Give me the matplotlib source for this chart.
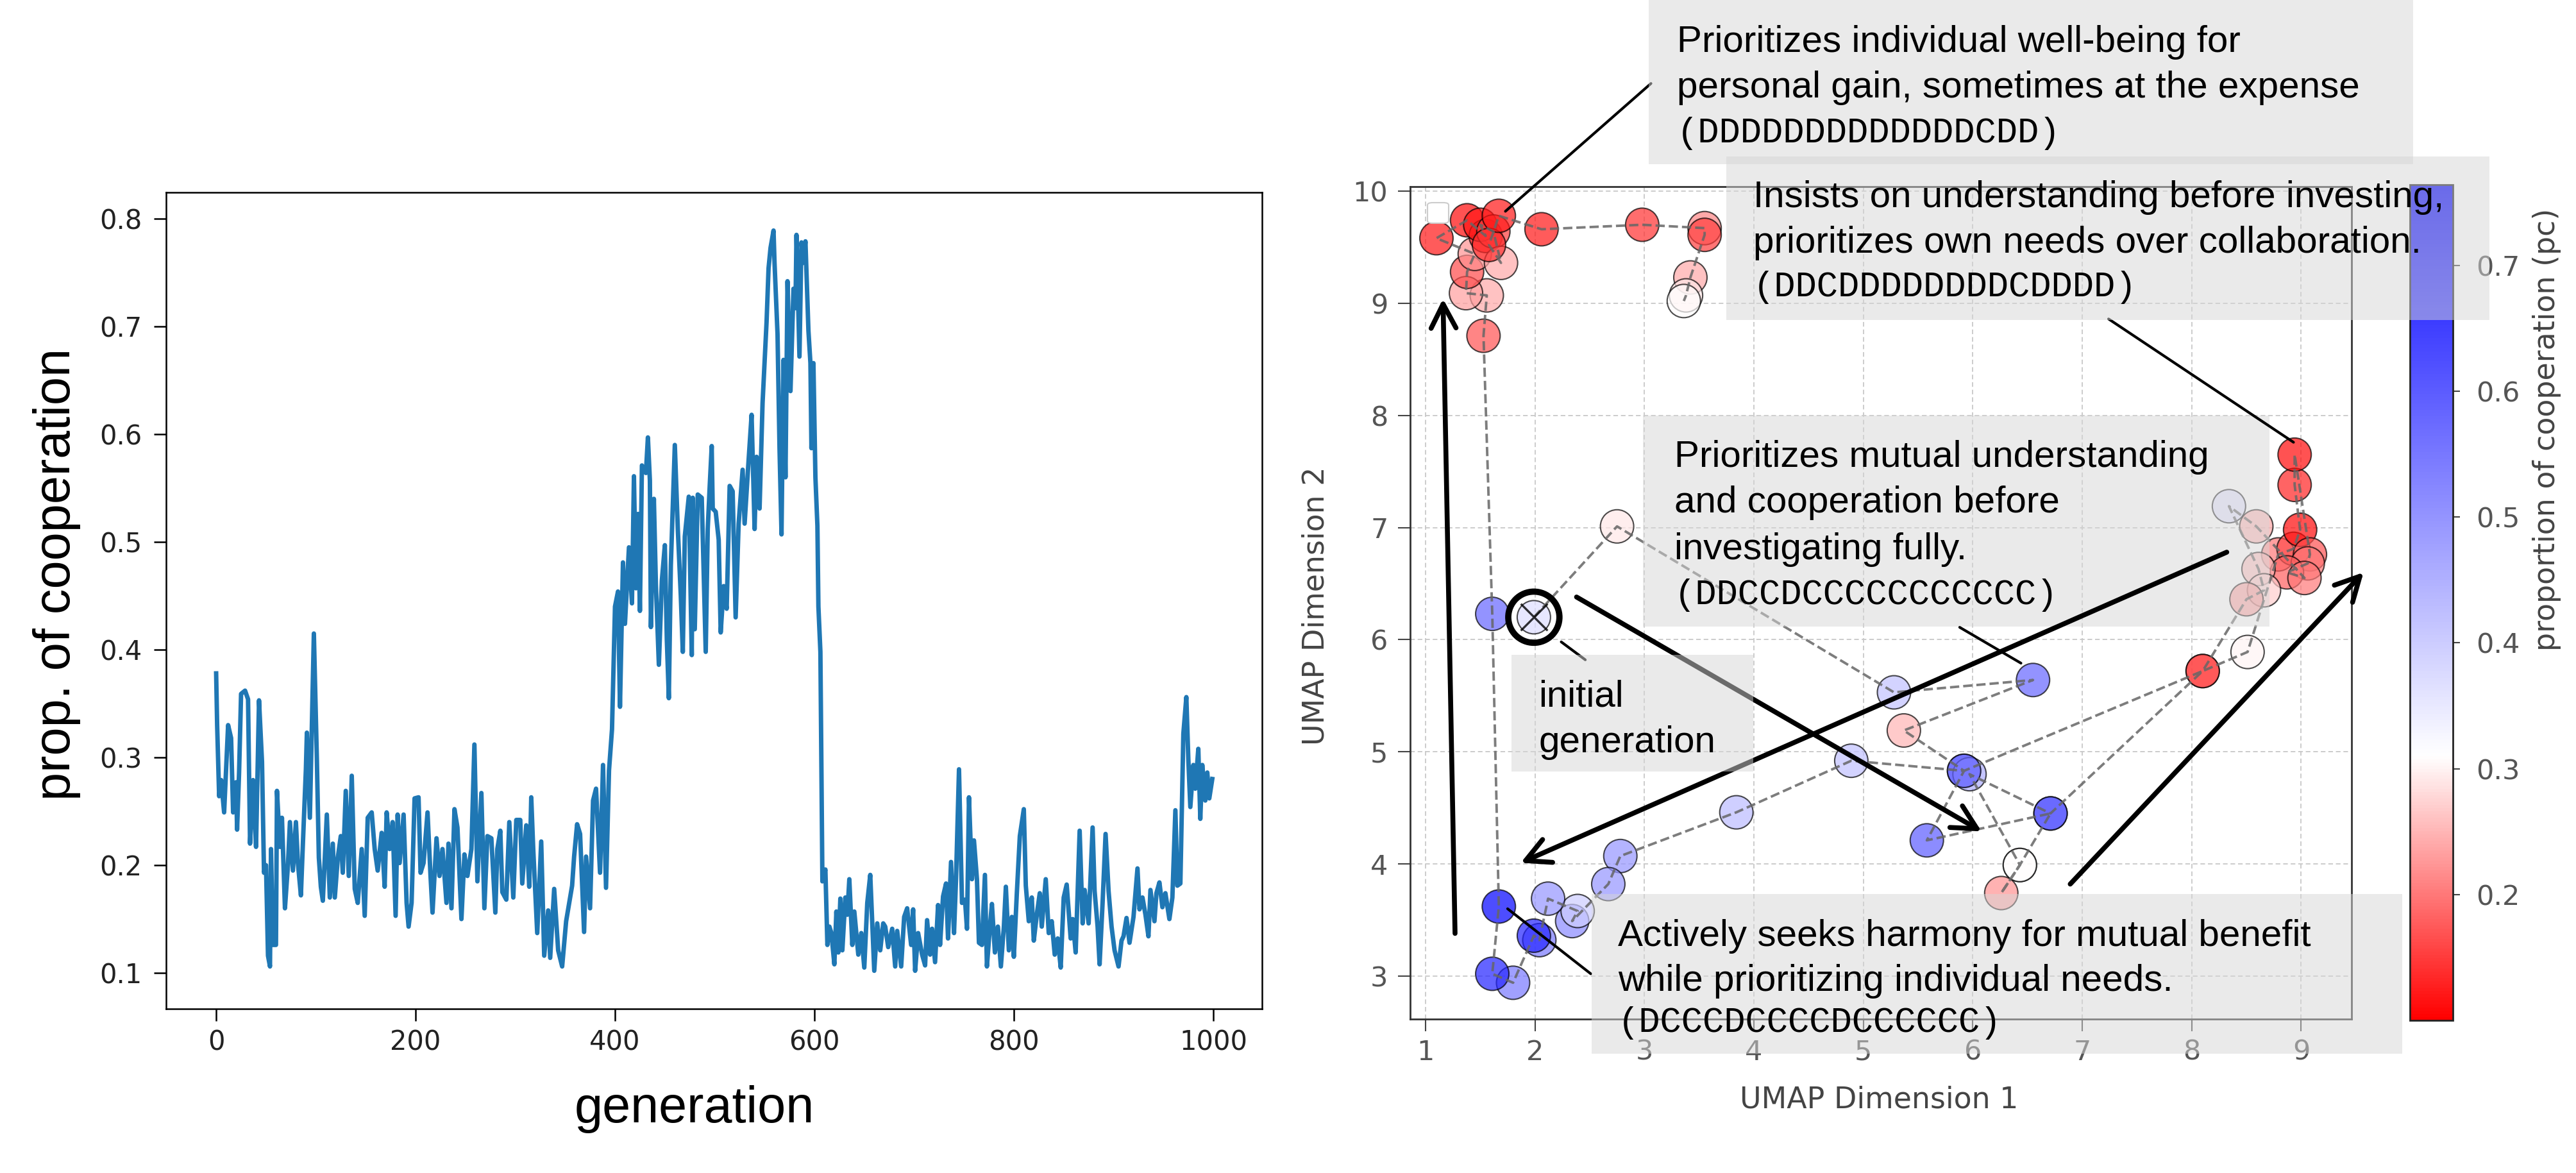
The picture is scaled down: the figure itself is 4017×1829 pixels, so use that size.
import matplotlib
matplotlib.use('Agg')
import matplotlib.pyplot as plt
from matplotlib.colors import LinearSegmentedColormap, Normalize
from matplotlib.patches import Rectangle, FancyBboxPatch

W, H = 4017, 1829

# proportion of cooperation per generation
generation = [0, 1, 3, 5, 8, 12, 15, 17, 20, 21,
              23, 25, 29, 32, 34, 37, 40, 43, 46, 48,
              50, 52, 54, 55, 57, 60, 61, 64, 66, 69,
              72, 74, 77, 80, 82, 85, 87, 90, 91, 94,
              98, 101, 103, 105, 107, 111, 114, 117, 119, 122,
              125, 127, 130, 133, 136, 139, 142, 146, 149, 152,
              156, 159, 162, 166, 169, 171, 174, 177, 180, 182,
              184, 188, 191, 193, 196, 199, 203, 205, 208, 212,
              215, 217, 221, 224, 227, 231, 233, 236, 239, 242,
              246, 249, 252, 256, 259, 262, 266, 269, 272, 276,
              280, 282, 285, 287, 291, 294, 298, 301, 305, 307,
              311, 314, 316, 318, 322, 326, 329, 333, 335, 339,
              343, 347, 351, 357, 359, 362, 365, 369, 371, 375,
              378, 381, 385, 388, 391, 394, 397, 400, 403, 405,
              408, 410, 414, 417, 419, 421, 423, 425, 427, 431,
              433, 435, 436, 439, 441, 444, 447, 450, 452, 454,
              456, 460, 463, 466, 468, 470, 474, 477, 478, 480,
              483, 487, 491, 493, 495, 497, 498, 501, 504, 506,
              509, 512, 515, 518, 521, 524, 528, 530, 534, 537,
              540, 542, 545, 548, 550, 552, 554, 556, 559, 560,
              563, 565, 567, 569, 571, 573, 576, 579, 581, 582,
              585, 587, 589, 591, 594, 596, 597, 599, 601, 603,
              604, 606, 608, 611, 613, 615, 617, 620, 622, 624,
              626, 628, 631, 633, 635, 638, 640, 644, 647, 650,
              653, 656, 660, 663, 666, 669, 671, 674, 678, 681,
              683, 687, 690, 693, 697, 699, 701, 704, 708, 711,
              713, 716, 718, 721, 724, 726, 729, 732, 734, 737,
              740, 742, 745, 748, 751, 753, 755, 758, 760, 763,
              765, 768, 771, 773, 776, 778, 781, 784, 787, 790,
              792, 795, 798, 800, 803, 806, 810, 812, 815, 818,
              820, 823, 826, 828, 832, 835, 838, 841, 844, 847,
              850, 853, 857, 859, 862, 866, 869, 871, 875, 879,
              881, 884, 886, 889, 892, 895, 898, 901, 905, 908,
              910, 913, 916, 920, 924, 926, 929, 932, 935, 937,
              941, 943, 946, 949, 952, 956, 959, 962, 964, 967,
              970, 973, 975, 977, 980, 982, 985, 987, 989, 992,
              994, 996, 999]

prop_coop = [0.378, 0.330, 0.264, 0.279, 0.249, 0.330, 0.318, 0.249, 0.277, 0.233,
             0.286, 0.359, 0.362, 0.354, 0.220, 0.279, 0.217, 0.353, 0.296, 0.193,
             0.200, 0.116, 0.106, 0.215, 0.126, 0.126, 0.269, 0.217, 0.244, 0.160,
             0.200, 0.240, 0.195, 0.240, 0.202, 0.172, 0.220, 0.289, 0.323, 0.244,
             0.415, 0.299, 0.207, 0.180, 0.167, 0.247, 0.170, 0.220, 0.170, 0.207,
             0.227, 0.193, 0.269, 0.190, 0.283, 0.178, 0.165, 0.215, 0.153, 0.244,
             0.249, 0.215, 0.195, 0.230, 0.180, 0.249, 0.215, 0.240, 0.153, 0.247,
             0.202, 0.247, 0.165, 0.143, 0.165, 0.262, 0.263, 0.193, 0.202, 0.249,
             0.190, 0.156, 0.225, 0.190, 0.215, 0.165, 0.220, 0.160, 0.252, 0.235,
             0.150, 0.210, 0.190, 0.215, 0.312, 0.185, 0.267, 0.160, 0.227, 0.225,
             0.156, 0.215, 0.232, 0.175, 0.168, 0.240, 0.170, 0.242, 0.242, 0.183,
             0.237, 0.180, 0.263, 0.215, 0.137, 0.222, 0.116, 0.158, 0.114, 0.178,
             0.121, 0.106, 0.148, 0.181, 0.208, 0.238, 0.229, 0.138, 0.208, 0.160,
             0.260, 0.271, 0.193, 0.293, 0.179, 0.288, 0.326, 0.440, 0.454, 0.347,
             0.481, 0.424, 0.495, 0.443, 0.561, 0.457, 0.526, 0.436, 0.571, 0.564,
             0.597, 0.557, 0.421, 0.540, 0.461, 0.386, 0.464, 0.497, 0.409, 0.355,
             0.478, 0.590, 0.512, 0.450, 0.398, 0.505, 0.542, 0.395, 0.541, 0.419,
             0.544, 0.541, 0.398, 0.512, 0.552, 0.589, 0.531, 0.528, 0.502, 0.416,
             0.459, 0.438, 0.552, 0.547, 0.430, 0.517, 0.567, 0.517, 0.576, 0.618,
             0.512, 0.579, 0.531, 0.629, 0.666, 0.704, 0.754, 0.773, 0.789, 0.759,
             0.693, 0.587, 0.507, 0.669, 0.560, 0.742, 0.640, 0.735, 0.717, 0.785,
             0.672, 0.778, 0.759, 0.779, 0.696, 0.666, 0.587, 0.666, 0.560, 0.515,
             0.440, 0.398, 0.185, 0.196, 0.126, 0.143, 0.137, 0.108, 0.157, 0.119,
             0.169, 0.121, 0.170, 0.154, 0.187, 0.126, 0.157, 0.117, 0.137, 0.105,
             0.165, 0.191, 0.102, 0.146, 0.121, 0.146, 0.143, 0.124, 0.141, 0.106,
             0.139, 0.106, 0.152, 0.160, 0.126, 0.159, 0.102, 0.137, 0.117, 0.107,
             0.149, 0.117, 0.141, 0.110, 0.163, 0.126, 0.171, 0.183, 0.132, 0.203,
             0.137, 0.187, 0.289, 0.165, 0.168, 0.141, 0.263, 0.187, 0.223, 0.187,
             0.128, 0.126, 0.191, 0.106, 0.143, 0.164, 0.119, 0.143, 0.106, 0.143,
             0.180, 0.121, 0.152, 0.115, 0.174, 0.227, 0.252, 0.181, 0.148, 0.170,
             0.130, 0.154, 0.174, 0.143, 0.187, 0.137, 0.148, 0.117, 0.132, 0.105,
             0.170, 0.182, 0.132, 0.150, 0.119, 0.232, 0.146, 0.177, 0.146, 0.235,
             0.176, 0.143, 0.108, 0.165, 0.229, 0.176, 0.143, 0.121, 0.106, 0.130,
             0.134, 0.151, 0.128, 0.152, 0.197, 0.159, 0.170, 0.154, 0.134, 0.177,
             0.148, 0.174, 0.184, 0.161, 0.174, 0.150, 0.170, 0.251, 0.181, 0.183,
             0.322, 0.356, 0.298, 0.254, 0.293, 0.271, 0.308, 0.243, 0.293, 0.260,
             0.286, 0.262, 0.280]

# UMAP trajectory of the dominant strategy, in generation order
umap1 = [1.99, 2.75, 5.28, 6.55, 5.37, 5.92, 5.58, 6.71, 6.43, 6.26,
         6.43, 5.97, 6.71, 8.10, 8.51, 8.79, 8.93, 8.99, 8.94, 8.94,
         9.08, 9.06, 8.87, 9.03, 8.59, 8.34, 8.61, 8.66, 8.50, 8.10,
         5.92, 4.89, 3.84, 2.78, 2.67, 2.34, 2.39, 2.12, 2.04, 1.99,
         1.80, 1.61, 1.67, 1.61, 1.53, 1.56, 1.37, 1.38, 1.45, 1.10,
         1.38, 1.55, 1.50, 1.62, 1.69, 1.58, 1.67, 2.06, 2.98, 3.55,
         3.55, 3.42, 3.38, 3.36]
umap2 = [6.20, 7.01, 5.53, 5.64, 5.19, 4.83, 4.21, 4.45, 3.99, 3.74,
         3.99, 4.80, 4.45, 5.72, 5.89, 6.76, 6.81, 6.98, 7.38, 7.65,
         6.76, 6.68, 6.60, 6.55, 7.01, 7.19, 6.63, 6.44, 6.36, 5.72,
         4.83, 4.92, 4.46, 4.07, 3.82, 3.49, 3.58, 3.69, 3.32, 3.36,
         2.94, 3.02, 3.62, 6.23, 8.71, 9.07, 9.09, 9.28, 9.44, 9.58,
         9.74, 9.60, 9.70, 9.64, 9.36, 9.52, 9.78, 9.66, 9.70, 9.67,
         9.61, 9.23, 9.07, 9.02]
pc = [0.37, 0.29, 0.42, 0.58, 0.25, 0.58, 0.60, 0.60, 0.31, 0.22,
      0.31, 0.46, 0.60, 0.16, 0.30, 0.20, 0.16, 0.11, 0.13, 0.11,
      0.17, 0.20, 0.18, 0.20, 0.24, 0.37, 0.25, 0.27, 0.22, 0.16,
      0.58, 0.42, 0.43, 0.50, 0.50, 0.52, 0.40, 0.50, 0.55, 0.70,
      0.55, 0.70, 0.76, 0.58, 0.17, 0.24, 0.23, 0.16, 0.22, 0.12,
      0.11, 0.13, 0.12, 0.15, 0.24, 0.14, 0.12, 0.12, 0.14, 0.21,
      0.15, 0.24, 0.29, 0.31]

# annotation boxes: (left, top, right, bottom) in pixels, text lines, code
box_rects = [(2571, -10, 3763, 256), (2692, 244, 3882, 499),
             (2562, 648, 3539, 977), (2357, 1021, 2734, 1203),
             (2482, 1394, 3746, 1643)]
box_lines = [["Prioritizes individual well-being for",
              "personal gain, sometimes at the expense"],
             ["Insists on understanding before investing,",
              "prioritizes own needs over collaboration."],
             ["Prioritizes mutual understanding",
              "and cooperation before",
              "investigating fully."],
             ["initial", "generation"],
             ["Actively seeks harmony for mutual benefit",
              "while prioritizing individual needs."]]
box_codes = ["(DDDDDDDDDDDDDCDD)", "(DDCDDDDDDDDCDDDD)",
             "(DDCCDCCCCCCCCCCC)", None, "(DCCCDCCCCDCCCCCC)"]
box_text_x = [2615, 2734, 2611, 2399, 2523]
box_baselines = [[81, 152, 222], [323, 394, 462], [728, 799, 872, 942],
                 [1102, 1173], [1475, 1545, 1609]]

# thick arrows (start, end) and thin leader lines, in UMAP coordinates
arrows = [((1.27, 3.38), (1.16, 9.04)), ((2.38, 6.38), (6.08, 4.29)),
          ((8.32, 6.78), (1.87, 4.01)), ((6.89, 3.82), (9.57, 6.60))]
leaders = [((3.06, 10.96), (1.73, 9.82)), ((7.24, 8.86), (8.93, 7.76)),
           ((5.88, 6.11), (6.44, 5.79)), ((2.46, 5.82), (2.24, 5.98)),
           ((2.51, 3.02), (1.75, 3.60))]


def fx(x):
    return x / W


def fy(y):
    return 1 - y / H


fig = plt.figure(figsize=(W / 100, H / 100), dpi=100)

# ---- left panel: time series ----
ax1 = fig.add_axes([fx(259), fy(1573), 1709 / W, 1273 / H])
ax1.plot(generation, prop_coop, color='#1f77b4', lw=5)
ax1.set_xlim(-50.2, 1048.9)
ax1.set_ylim(0.0667, 0.8244)
ax1.set_xticks([0, 200, 400, 600, 800, 1000])
ax1.set_yticks([0.1, 0.2, 0.3, 0.4, 0.5, 0.6, 0.7, 0.8])
ax1.tick_params(labelsize=30, length=14, width=1.8, labelcolor='#222222')
ax1.tick_params(axis='x', pad=9)
ax1.tick_params(axis='y', pad=13)
for s in ax1.spines.values():
    s.set_linewidth(1.8)
fig.text(fx(89), fy(896), 'prop. of cooperation', rotation=90, fontsize=57,
         family='Liberation Sans', ha='center', va='center')
fig.text(fx(1083), fy(1750), 'generation', fontsize=57,
         family='Liberation Sans', ha='center', va='baseline')

# ---- right panel: UMAP trajectory ----
cmap = LinearSegmentedColormap.from_list(
    'rwb', [(0.0, (1, 0, 0)), (0.316, (1, 1, 1)), (1.0, (0, 0, 1))])
norm = Normalize(vmin=0.1, vmax=0.764)

ax2 = fig.add_axes([fx(2199), fy(1589), 1468 / W, 1298 / H])
ax2.plot(umap1, umap2, '--', color='#666666', lw=2.8, alpha=0.85, zorder=4)
ax2.scatter(umap1, umap2, c=pc, cmap=cmap, norm=norm, s=1400,
            edgecolors='k', linewidths=1.5, alpha=0.7, zorder=3)
# initial generation marker
ax2.scatter(umap1[:1], umap2[:1], marker='x', s=900, color='k',
            linewidths=2.4, alpha=0.8, zorder=5)
ax2.scatter(umap1[:1], umap2[:1], s=3300, facecolors='none',
            edgecolors='k', linewidths=7, zorder=6)

ax2.set_xlim(0.86, 9.46)
ax2.set_ylim(2.616, 10.04)
ax2.set_xticks(range(1, 10))
ax2.set_yticks(range(3, 11))
ax2.grid(True, linestyle=(0, (4, 2.5)), color='#c8c8c8', lw=1.3)
ax2.set_axisbelow(True)
ax2.tick_params(labelsize=31, length=14, width=1.5, color='#444444',
                labelcolor='#555555')
ax2.tick_params(axis='x', pad=8)
ax2.tick_params(axis='y', pad=11)
for s in ax2.spines.values():
    s.set_linewidth(2)
    s.set_edgecolor('#333333')

# empty legend frame left in the corner
ax2.add_patch(FancyBboxPatch((fx(2226), fy(348)), 33 / W, 32 / H,
                             boxstyle='round,pad=0,rounding_size=0.002',
                             transform=fig.transFigure, facecolor='white',
                             edgecolor='#cccccc', lw=1.5, zorder=5))

for start, end in arrows:
    ax2.annotate('', xy=end, xytext=start, annotation_clip=False,
                 arrowprops=dict(arrowstyle='->,head_length=1.35,head_width=0.7',
                                 lw=5.5, color='k', mutation_scale=20,
                                 shrinkA=0, shrinkB=0), zorder=5)
for start, end in leaders:
    ax2.annotate('', xy=end, xytext=start, annotation_clip=False,
                 arrowprops=dict(arrowstyle='-', lw=3, color='k',
                                 shrinkA=0, shrinkB=0), zorder=5)

fig.text(fx(2930), fy(1727), 'UMAP Dimension 1', fontsize=33,
         color='#444444', ha='center', va='baseline')
fig.text(fx(2052), fy(945), 'UMAP Dimension 2', fontsize=33, rotation=90,
         color='#444444', ha='center', va='center')

# colorbar
cax = fig.add_axes([fx(3758), fy(1591), 67 / W, 1303 / H])
cb = fig.colorbar(plt.cm.ScalarMappable(norm=norm, cmap=cmap), cax=cax,
                  ticks=[0.2, 0.3, 0.4, 0.5, 0.6, 0.7])
cb.outline.set_edgecolor('#222222')
cb.outline.set_linewidth(2)
cax.tick_params(labelsize=31, labelcolor='#555555', color='#444444',
                length=8, width=1.5, pad=18)
fig.text(fx(3971), fy(670), 'proportion of cooperation (pc)', fontsize=33,
         rotation=90, color='#444444', ha='center', va='center')

# ---- annotation boxes ----
for i, (x0, y0, x1, y1) in enumerate(box_rects):
    rect = Rectangle((fx(x0), fy(y1)), (x1 - x0) / W, (y1 - y0) / H,
                     transform=fig.transFigure, facecolor='#d6d6d6',
                     edgecolor='none', alpha=0.5)
    if i == 2:
        # this box sits under the thick arrows
        rect.set_zorder(4.5)
        rect.set_clip_on(False)
        ax2.add_patch(rect)
    else:
        fig.add_artist(rect)
    lines = box_lines[i]
    for j, line in enumerate(lines):
        fig.text(fx(box_text_x[i]), fy(box_baselines[i][j]), line,
                 fontsize=42, family='Liberation Sans', va='baseline')
    if box_codes[i]:
        fig.text(fx(box_text_x[i]), fy(box_baselines[i][len(lines)]),
                 box_codes[i], fontsize=40, family='Liberation Mono',
                 va='baseline')

fig.savefig('out.png', dpi=100)
